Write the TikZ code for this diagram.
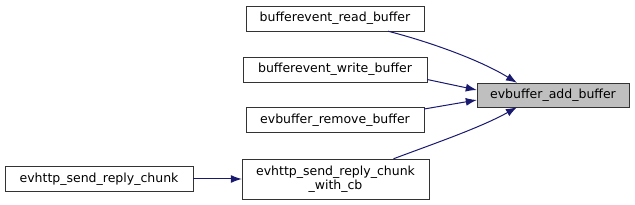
\documentclass[tikz,border=0pt]{standalone}
\usepackage{fontspec}
\setmainfont{DejaVu Sans}
\usetikzlibrary{arrows.meta}

\begin{document}
\begin{tikzpicture}[x=1pt,y=-1pt,
  fn/.style={draw=black!80,fill=white,inner sep=0pt,font=\fontsize{12.5}{14}\selectfont,align=center},
  hit/.style={fn,fill=black!25},
  call/.style={draw={rgb,255:red,25;green,25;blue,112},-{Latex[length=11pt,width=8pt]},line width=1pt}]
\useasboundingbox (0,0) rectangle (635,205);

% Target
\node[hit,minimum width=152pt,minimum height=24pt] (add) at (553,95) {evbuffer\_add\_buffer};

% Callers
\node[fn,minimum width=178pt,minimum height=25pt] (read) at (335,18.5) {bufferevent\_read\_buffer};
\node[fn,minimum width=184pt,minimum height=25pt] (write) at (335,69.5) {bufferevent\_write\_buffer};
\node[fn,minimum width=178pt,minimum height=25pt] (remove) at (335,120) {evbuffer\_remove\_buffer};
\node[fn,minimum width=187pt,minimum height=40pt] (cb) at (335.5,179) {evhttp\_send\_reply\_chunk\\\_with\_cb};
\node[fn,minimum width=188pt,minimum height=25pt] (chunk) at (99,179) {evhttp\_send\_reply\_chunk};

% Edges
\draw[call] (read.south) ++(53,0) .. controls (430,42) and (480,60) .. ([xshift=-36pt]add.north);
\draw[call] (write.east) ++(0,10) -- ([yshift=5pt]add.west);
\draw[call] (remove.east) ++(0,-11) -- ([yshift=-5pt]add.west);
\draw[call] ([xshift=58pt]cb.north) .. controls (430,145) and (480,128) .. ([xshift=-36pt]add.south);
\draw[call] (chunk) -- (cb);
\end{tikzpicture}
\end{document}
